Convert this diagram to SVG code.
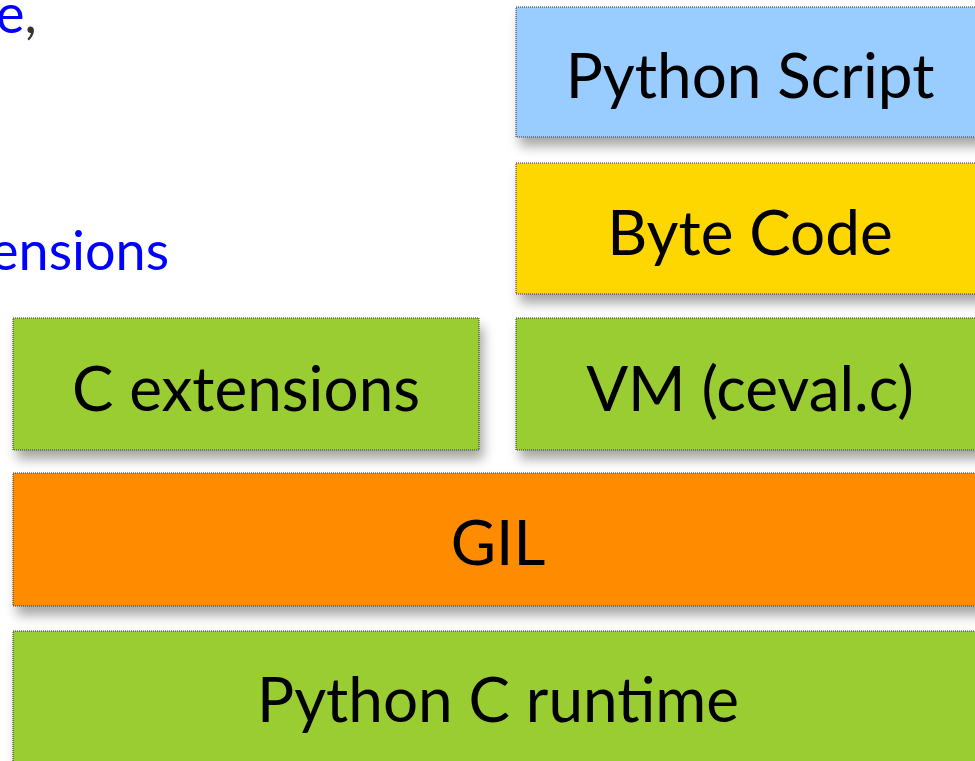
<svg xmlns="http://www.w3.org/2000/svg" width="975" height="761" viewBox="0 0 975 761">
<defs>
<filter id="sh" x="-10%" y="-20%" width="130%" height="160%">
<feDropShadow dx="4" dy="9" stdDeviation="6" flood-color="#000" flood-opacity="0.35"/>
</filter>
</defs>
<style>
.box{stroke:#333;stroke-width:1;stroke-dasharray:1 1;filter:url(#sh)}
.lbl{font-family:Lato,"Open Sans","Liberation Sans",sans-serif;font-size:62px;fill:#000;text-anchor:middle}
.blue{font-family:Lato,"Open Sans","Liberation Sans",sans-serif;font-size:54px;fill:#0000ff}
</style>
<rect width="975" height="761" fill="#fff"/>
<g id="bg-text">
<text class="blue" x="-4" y="33">e<tspan fill="#333">,</tspan></text>
<text class="blue" x="-10" y="270">ensions</text>
</g>
<g id="python-script">
<rect class="box" x="516" y="7" width="468" height="130" fill="#99ccff"/>
<text class="lbl" x="750" y="98">Python Script</text>
</g>
<g id="byte-code">
<rect class="box" x="516" y="163" width="468" height="131" fill="#ffd700"/>
<text class="lbl" x="750" y="255">Byte Code</text>
</g>
<g id="c-extensions">
<rect class="box" x="13" y="318" width="466" height="132" fill="#9acd32"/>
<text class="lbl" x="246" y="411">C extensions</text>
</g>
<g id="vm">
<rect class="box" x="516" y="318" width="468" height="132" fill="#9acd32"/>
<text class="lbl" x="750" y="411">VM (ceval.c)</text>
</g>
<g id="gil">
<rect class="box" x="13" y="473" width="971" height="133" fill="#ff8c00"/>
<text class="lbl" x="498" y="565">GIL</text>
</g>
<g id="python-c-runtime">
<rect class="box" x="13" y="631" width="971" height="140" fill="#9acd32"/>
<text class="lbl" x="498" y="722">Python C runtime</text>
</g>
<g id="connectors"/>
</svg>
